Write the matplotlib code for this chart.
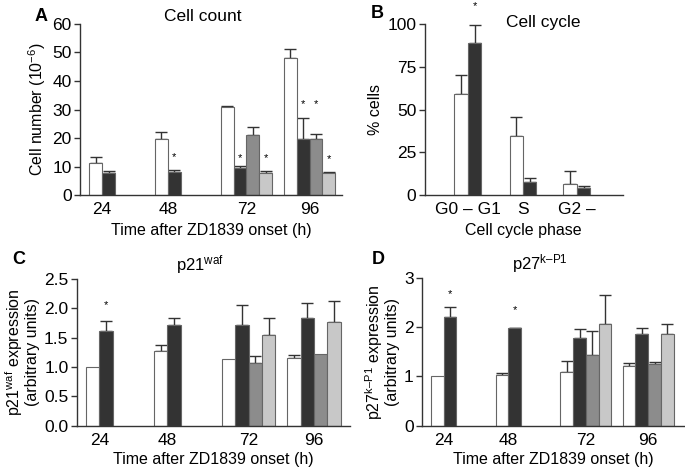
import matplotlib
matplotlib.use('Agg')
import matplotlib.pyplot as plt

plt.rcParams['font.family'] = ['Liberation Sans', 'DejaVu Sans']
plt.rcParams['font.size'] = 10
plt.rcParams['mathtext.fontset'] = 'custom'
plt.rcParams['mathtext.rm'] = 'Liberation Sans'
plt.rcParams['mathtext.it'] = 'Liberation Sans'

# data
times = ['24', '48', '72', '96']
phases = ['G0 – G1', 'S', 'G2 –']

# panel A: cell count, 4 series per time point (None = no bar)
a_vals = [[11.4, 7.6, None, None],
          [19.5, 8.2, None, None],
          [31.0, 9.4, 21.2, 7.6],
          [48.2, 19.5, 19.5, 7.6]]
a_err = [[1.8, 0.7, 0, 0],
         [2.7, 0.5, 0, 0],
         [0.2, 0.9, 2.5, 0.9],
         [2.9, 7.4, 1.8, 0.5]]
# significance stars: (series, height)
a_star = [[], [(1, 13.4)], [(1, 13.0), (3, 13.0)], [(1, 31.8), (2, 31.8), (3, 12.5)]]

# panel B: cell cycle
b_vals = [[58.9, 89.1], [34.7, 7.4], [6.6, 4.3]]
b_err = [[11.5, 10.3], [10.9, 2.7], [7.2, 1.2]]
b_star = [[(1, 110.5)], [], []]

# panel C: p21waf
c_vals = [[1.01, 1.62, None, None],
          [1.28, 1.72, None, None],
          [1.14, 1.71, 1.07, 1.54],
          [1.16, 1.83, 1.22, 1.77]]
c_err = [[0, 0.17, 0, 0],
         [0.09, 0.11, 0, 0],
         [0, 0.35, 0.12, 0.29],
         [0.05, 0.27, 0, 0.36]]
c_star = [[(1, 2.05)], [], [], []]

# panel D: p27kip1
d_vals = [[1.0, 2.20, None, None],
          [1.03, 1.98, None, None],
          [1.09, 1.77, 1.43, 2.06],
          [1.22, 1.85, 1.25, 1.85]]
d_err = [[0, 0.20, 0, 0],
         [0.03, 0.01, 0, 0],
         [0.23, 0.19, 0.50, 0.58],
         [0.06, 0.14, 0.05, 0.21]]
d_star = [[(1, 2.67)], [(1, 2.34)], [], []]

colors = ['white', '#333333', '#8c8c8c', '#c8c8c8']
edge = '#666666'


def bars(ax, vals, errs, stars, centers):
    w = 1.0
    for g, row in enumerate(vals):
        present = [i for i, v in enumerate(row) if v is not None]
        n = len(present)
        xs = {}
        for k, i in enumerate(present):
            x = centers[g] + (k - (n - 1) / 2) * w
            xs[i] = x
            ax.bar(x, row[i], w, color=colors[i], edgecolor=edge, linewidth=0.8, zorder=2)
            e = errs[g][i]
            if e > 0:
                ax.errorbar(x, row[i], yerr=[[0], [e]], fmt='none', ecolor='#333333',
                            elinewidth=1, capsize=4, capthick=1, zorder=1)
        for i, y in stars[g]:
            ax.text(xs[i], y, '*', ha='center', va='center', fontsize=8, clip_on=False)


def style(ax):
    for s in ['top', 'right']:
        ax.spines[s].set_visible(False)
    for s in ['left', 'bottom']:
        ax.spines[s].set_color('#333333')
        ax.spines[s].set_linewidth(1)
    ax.tick_params(axis='x', length=0, pad=5, labelsize=12.5)
    ax.tick_params(axis='y', length=4, width=1, color='#333333', labelsize=12.5, pad=2)


fig = plt.figure(figsize=(6.85, 4.69), dpi=100)

centers = [1.7, 6.8, 12.9, 17.8]

# A
ax = fig.add_axes([0.117, 0.584, 0.382, 0.365])
bars(ax, a_vals, a_err, a_star, centers)
ax.set_xlim(0, 20.3)
ax.set_ylim(0, 60)
ax.set_yticks(range(0, 61, 10))
ax.set_xticks(centers)
ax.set_xticklabels(times)
style(ax)
ax.set_ylabel('Cell number (10$^{-6}$)', fontsize=11.5, labelpad=3)
ax.set_xlabel('Time after ZD1839 onset (h)', fontsize=11.5, labelpad=4)
ax.set_title('Cell count', fontsize=12.5, pad=2, x=0.47)
fig.text(0.06, 0.965, 'A', fontsize=13, fontweight='bold', ha='center', va='center')

# B
ax = fig.add_axes([0.620, 0.584, 0.289, 0.365])
bcent = [3.2, 7.3, 11.3]
bars(ax, b_vals, b_err, b_star, bcent)
ax.set_xlim(0, 14.7)
ax.set_ylim(0, 100)
ax.set_yticks([0, 25, 50, 75, 100])
ax.set_xticks(bcent)
ax.set_xticklabels(phases)
style(ax)
ax.set_ylabel('% cells', fontsize=11.5, labelpad=3)
ax.set_xlabel('Cell cycle phase', fontsize=11.5, labelpad=4)
ax.text(0.6, 1.01, 'Cell cycle', transform=ax.transAxes, fontsize=12.5, ha='center', va='center')
fig.text(0.55, 0.972, 'B', fontsize=13, fontweight='bold', ha='center', va='center')

# C
ax = fig.add_axes([0.112, 0.092, 0.399, 0.313])
bars(ax, c_vals, c_err, c_star, centers)
ax.set_xlim(0, 20.5)
ax.set_ylim(0, 2.5)
ax.set_yticks([0.0, 0.5, 1.0, 1.5, 2.0, 2.5])
ax.set_yticklabels(['0.0', '0.5', '1.0', '1.5', '2.0', '2.5'])
ax.set_xticks(centers)
ax.set_xticklabels(times)
style(ax)
ax.set_ylabel('p21$^{\\mathrm{waf}}$ expression\n(arbitrary units)', fontsize=11.5,
              labelpad=3, linespacing=0.95)
ax.set_xlabel('Time after ZD1839 onset (h)', fontsize=11.5, labelpad=3)
ax.set_title('p21$^{\\mathrm{waf}}$', fontsize=12, pad=6, x=0.45)
fig.text(0.027, 0.446, 'C', fontsize=13, fontweight='bold', ha='center', va='center')

# D
ax = fig.add_axes([0.616, 0.092, 0.384, 0.316])
bars(ax, d_vals, d_err, d_star, centers)
ax.set_xlim(0, 20.7)
ax.set_ylim(0, 3)
ax.set_yticks([0, 1, 2, 3])
ax.set_xticks(centers)
ax.set_xticklabels(times)
style(ax)
ax.set_ylabel('p27$^{\\mathrm{k\u2013P1}}$ expression\n(arbitrary units)', fontsize=11.5,
              labelpad=3, linespacing=0.95)
ax.set_xlabel('Time after ZD1839 onset (h)', fontsize=11.5, labelpad=3)
ax.set_title('p27$^{\\mathrm{k\u2013P1}}$', fontsize=12, pad=6, x=0.45)
fig.text(0.552, 0.446, 'D', fontsize=13, fontweight='bold', ha='center', va='center')

fig.savefig('out.png', dpi=100)
